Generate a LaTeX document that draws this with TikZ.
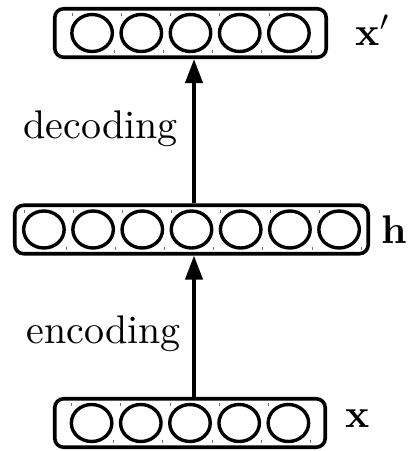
\documentclass[tikz,border=0pt]{standalone}
\usetikzlibrary{arrows.meta,shapes.geometric}

\tikzset{
  layerbox/.style={draw, line width=3.6pt, rounded corners=9pt, inner sep=0pt},
  neuron/.style={draw, line width=3.4pt, ellipse, inner sep=0pt,
                 minimum width=40.5pt, minimum height=37pt},
  celltick/.style={draw=black!55, line width=0.8pt},
  flow/.style={line width=4pt, -{Triangle[width=17pt,length=24pt]}},
  lbl/.style={inner sep=0pt}
}
\newcommand{\enlargedtext}[1]{\scalebox{4}{#1}}

% \layer{name}{center x}{center y}{number of units}{box width}
\newcommand{\layer}[5]{%
  \node[layerbox, minimum width=#5pt, minimum height=48.5pt] (#1) at (#2,#3) {};
  \foreach \k in {1,...,#4}{%
    \pgfmathsetmacro{\cx}{#2 + (\k - (#4+1)/2)*49.2}
    \node[neuron] (#1-\k) at (\cx,#3) {};
    \draw[celltick] (\cx-20,#3-20) -- (\cx-20,#3-17);
    \draw[celltick] (\cx+22,#3+17) -- (\cx+22,#3+20);
  }%
}

\begin{document}
\begin{tikzpicture}[x=1pt,y=-1pt]
  \useasboundingbox (0,0) rectangle (419,451);

  % output, hidden and input layers
  \layer{out}{190.5}{33}{5}{271.5}
  \layer{hid}{191.5}{229.5}{7}{353.5}
  \layer{inp}{190}{423}{5}{270.5}

  \coordinate (axis) at (194,0);

  % encoder and decoder mappings
  \draw[flow] (inp.north -| axis) -- (hid.south -| axis);
  \draw[flow] (hid.north -| axis) -- (out.south -| axis);

  \node[lbl, anchor=base east] (dec) at (178,138) {\enlargedtext{decoding}};
  \node[lbl, anchor=base east] (enc) at (181,343) {\enlargedtext{encoding}};

  \node[lbl, anchor=base west] (xo) at (355,45) {\enlargedtext{$\mathbf{x}'$}};
  \node[lbl, anchor=base west] (hl) at (381,243) {\enlargedtext{$\mathbf{h}$}};
  \node[lbl, anchor=base west] (xi) at (345,427) {\enlargedtext{$\mathbf{x}$}};
\end{tikzpicture}
\end{document}
